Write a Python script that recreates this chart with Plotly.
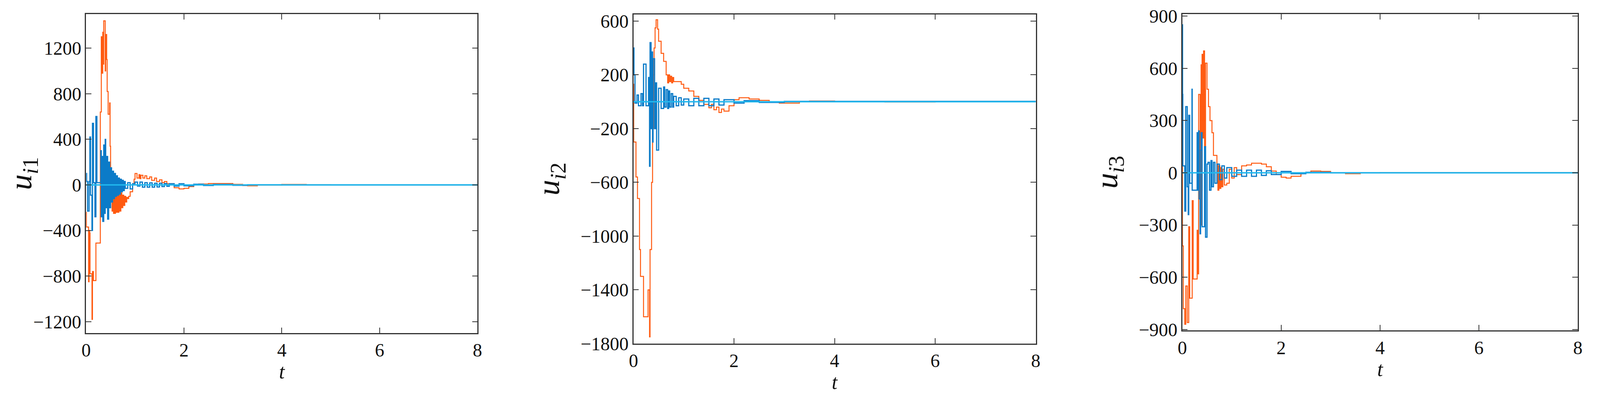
import plotly.graph_objects as go

# ---------------- data ----------------
t1_or = [0, 0.005, 0.05, 0.06, 0.07, 0.08, 0.12, 0.13, 0.15, 0.2, 0.29, 0.31, 0.33, 0.34, 0.35, 0.36, 0.39, 0.40, 0.42, 0.43,
         0.45, 0.48, 0.49, 0.50, 0.53, 0.54, 0.56, 0.57, 0.59, 0.60, 0.62, 0.63, 0.65, 0.67, 0.69, 0.71, 0.73, 0.75, 0.77, 0.79,
         0.81, 0.83, 0.85, 0.87, 0.90, 0.95, 0.98, 1.00, 1.04, 1.08, 1.10, 1.12, 1.16, 1.2, 1.24, 1.3, 1.34, 1.4, 1.44, 1.5,
         1.55, 1.6, 1.65, 1.7, 1.8, 1.9, 2.0, 2.1, 2.2, 2.3, 2.5, 2.8, 3.0, 3.2, 3.3, 3.5, 4.0, 4.5, 5.0, 6.0, 8.0]
u1_or = [-240, -370, -850, -400, -420, -780, -1180, -760, -840, -510, 640, 1300, 980, 1340, 1060, 1440, 1000, 1320, 1100, 820,
         620, 720, 340, 50, -230, 110, -250, -60, -250, -40, -240, -30, -240, -60, -230, -70, -200, -90, -180, -100,
         -150, -110, -120, -100, -60, 0, 50, 100, 60, 90, 55, 85, 60, 80, 55, 70, 40, 60, 30, 45,
         20, 30, 10, 10, -25, -35, -30, -15, 0, 8, 12, 12, 5, -5, -8, -2, 4, 2, 0, 0, 0]

t1_bl = [0, 0.01, 0.03, 0.06, 0.077, 0.09, 0.12, 0.13, 0.15, 0.18, 0.2, 0.22, 0.28, 0.30, 0.31, 0.33, 0.34, 0.36, 0.37, 0.39,
         0.40, 0.42, 0.44, 0.46, 0.48, 0.5, 0.52, 0.54, 0.56, 0.58, 0.6, 0.62, 0.64, 0.66, 0.68, 0.7, 0.72, 0.74, 0.76, 0.78,
         0.8, 0.85, 0.9, 0.95, 1.0, 1.05, 1.1, 1.15, 1.2, 1.25, 1.3, 1.35, 1.4, 1.45, 1.5, 1.55, 1.6, 1.65, 1.7, 1.8,
         1.9, 2.0, 2.2, 2.4, 2.6, 3.0, 3.3, 4.0, 8.0]
u1_bl = [100, 30, -230, 30, 420, -90, -400, 540, 20, -280, 600, 20, 20, 300, -280, 250, -320, 350, -250, 400,
         -200, 250, -300, 200, -200, 150, -150, 120, -120, 100, -100, 80, -90, 60, -80, 50, -60, 40, -50, 30,
         -30, 20, -35, 10, 25, -10, 25, -20, 20, -20, 18, -20, 15, -18, 15, -15, 12, -12, 10, -10,
         10, -8, 6, -5, 4, -3, 2, 0, 0]

t2_or = [0, 0.005, 0.05, 0.08, 0.12, 0.14, 0.2, 0.29, 0.32, 0.33, 0.36, 0.38, 0.40, 0.41, 0.43, 0.45, 0.48, 0.5, 0.55, 0.6,
         0.65, 0.68, 0.70, 0.72, 0.74, 0.76, 0.78, 0.80, 0.85, 0.95, 1.0, 1.1, 1.2, 1.3, 1.4, 1.5, 1.55, 1.6, 1.65, 1.7,
         1.75, 1.8, 1.9, 2.0, 2.1, 2.3, 2.5, 2.7, 2.9, 3.1, 3.3, 3.5, 4.0, 5.0, 6.0, 8.0]
u2_or = [130, -300, -560, -720, -1100, -1300, -1600, -1400, -1750, -1100, -600, -200, 200, 400, 550, 610, 540, 450, 360, 300,
         200, 140, 200, 150, 190, 140, 180, 150, 150, 130, 100, 80, 40, 10, -20, -45, -20, -60, -40, -80,
         -55, -70, -30, 15, 30, 20, 10, 0, -10, -10, 0, 5, 3, -2, 0, 0]

t2_bl = [0, 0.01, 0.03, 0.07, 0.1, 0.15, 0.18, 0.2, 0.25, 0.3, 0.32, 0.33, 0.35, 0.37, 0.38, 0.39, 0.42, 0.44, 0.46, 0.5,
         0.55, 0.6, 0.62, 0.65, 0.68, 0.7, 0.72, 0.75, 0.78, 0.8, 0.85, 0.9, 0.95, 1.0, 1.1, 1.2, 1.3, 1.4, 1.5, 1.6,
         1.7, 1.8, 2.0, 2.2, 2.5, 3.0, 8.0]
u2_bl = [400, 200, -10, 50, -30, 60, -30, 280, -30, 180, -480, 440, -200, 370, -300, 320, -200, 140, -360, 100,
         -50, 110, -40, 90, -50, 80, -40, 60, -40, 40, -30, 30, -25, 20, -30, 25, -30, 25, -30, 20,
         -25, 15, -10, 8, -5, 3, 0]

t3_or = [0, 0.003, 0.02, 0.05, 0.07, 0.1, 0.13, 0.15, 0.2, 0.22, 0.3, 0.31, 0.33, 0.36, 0.38, 0.39, 0.4, 0.42, 0.43, 0.45,
         0.47, 0.5, 0.53, 0.56, 0.6, 0.63, 0.7, 0.72, 0.74, 0.76, 0.78, 0.8, 0.82, 0.85, 0.9, 0.95, 1.0, 1.05, 1.1, 1.2,
         1.3, 1.4, 1.5, 1.6, 1.7, 1.8, 1.9, 2.0, 2.1, 2.2, 2.4, 2.6, 2.8, 3.0, 3.3, 3.6, 4.0, 8.0]
u3_or = [50, -420, -780, -870, -650, -860, -310, -720, -160, -610, -330, -580, 450, -300, 620, -100, 680, 200, 700, 150,
         630, 480, 380, 300, 230, 100, 50, -100, 40, -90, 30, -80, 20, -70, -60, 20, -30, 30, -10, 40,
         45, 55, 55, 50, 35, 10, -10, -25, -30, -20, 0, 10, 8, 0, -5, 0, 2, 0]

t3_bl = [0, 0.005, 0.01, 0.05, 0.07, 0.1, 0.12, 0.13, 0.15, 0.196, 0.2, 0.3, 0.31, 0.33, 0.34, 0.36, 0.37, 0.38, 0.4, 0.45,
         0.47, 0.5, 0.52, 0.55, 0.58, 0.6, 0.63, 0.66, 0.7, 0.75, 0.8, 0.85, 0.9, 1.0, 1.1, 1.2, 1.3, 1.4, 1.5, 1.6,
         1.7, 1.8, 2.0, 2.2, 2.5, 3.0, 8.0]
u3_bl = [850, 450, 40, -220, 380, -80, -240, 330, -60, 480, -100, 230, -100, 240, -150, -350, 130, 230, -310, 150,
         -370, 50, 60, -100, 70, -80, 60, -60, 50, -40, 40, -30, 30, -20, 15, -20, 15, -20, 15, -15,
         12, -10, 8, -5, 3, 0, 0]

t_cy = [0, 0.5, 1, 2, 4, 8]
u_cy = [0, 0, 0, 0, 0, 0]

y_titles = ["<i>u</i><sub><i>i</i>1</sub>", "<i>u</i><sub><i>i</i>2</sub>", "<i>u</i><sub><i>i</i>3</sub>"]
y_ranges = [[-1300, 1500], [-1800, 650], [-905, 912]]
y_ticks = [[-1200, -800, -400, 0, 400, 800, 1200],
           [-1800, -1400, -1000, -600, -200, 200, 600],
           [-900, -600, -300, 0, 300, 600, 900]]
x_ticks = [0, 2, 4, 6, 8]

# ---------------- figure ----------------
ORANGE = "#FF5A10"
BLUE = "#0B7BC8"
CYAN = "#22B8EE"
S = 0.967   # page-to-picture correction
OFF = 8     # default page margin
W, H = round(4220 * S) - 2 * OFF, round(1059 * S) - 2 * OFF


def px_x(a, b):
    return [(a * S - OFF) / W, (b * S - OFF) / W]


def px_y(top, bottom):
    return [1 - (bottom * S - OFF) / H, 1 - (top * S - OFF) / H]


xdoms = [px_x(228, 1264), px_x(1677, 2742), px_x(3130, 4177)]
ydoms = [px_y(37, 881), px_y(38, 909), px_y(37, 874)]

series = [(t1_or, u1_or, t1_bl, u1_bl), (t2_or, u2_or, t2_bl, u2_bl), (t3_or, u3_or, t3_bl, u3_bl)]
fig = go.Figure()
font = dict(family="Liberation Serif", size=round(50 * S), color="#111111")
for i, (to, uo, tb, ub) in enumerate(series):
    xa = "x" if i == 0 else f"x{i+1}"
    ya = "y" if i == 0 else f"y{i+1}"
    fig.add_trace(go.Scatter(x=to, y=uo, mode="lines", line=dict(color=ORANGE, width=2.5, shape="hv"),
                             xaxis=xa, yaxis=ya, showlegend=False))
    fig.add_trace(go.Scatter(x=tb, y=ub, mode="lines", line=dict(color=BLUE, width=3, shape="hv"),
                             xaxis=xa, yaxis=ya, showlegend=False))
    fig.add_trace(go.Scatter(x=t_cy, y=u_cy, mode="lines", line=dict(color=CYAN, width=3.5),
                             xaxis=xa, yaxis=ya, showlegend=False))
    sfx = "" if i == 0 else str(i + 1)
    common = dict(showgrid=False, zeroline=False, showline=True, linecolor="#333333", linewidth=2.5,
                  mirror="ticks", ticks="inside", ticklen=14, tickwidth=2, tickcolor="#333333", tickfont=font,
                  automargin=False)
    fig.layout["xaxis" + sfx] = dict(domain=xdoms[i], range=[0, 8], tickvals=x_ticks, anchor=ya,
                                     title=dict(text="<i>t</i>", font=dict(family="Liberation Serif", size=round(54 * S), color="#111111"), standoff=5),
                                     **common)
    fig.layout["yaxis" + sfx] = dict(domain=ydoms[i], range=y_ranges[i], tickvals=y_ticks[i], anchor=xa,
                                     title=dict(text=y_titles[i], font=dict(family="Liberation Serif", size=round(84 * S), color="#111111"), standoff=28),
                                     **common)

fig.update_layout(width=W, height=H, margin=dict(l=0, r=0, t=0, b=0),
                  paper_bgcolor="white", plot_bgcolor="white", font=dict(family="Liberation Serif", color="#111111"))
fig.write_html("out.html")
